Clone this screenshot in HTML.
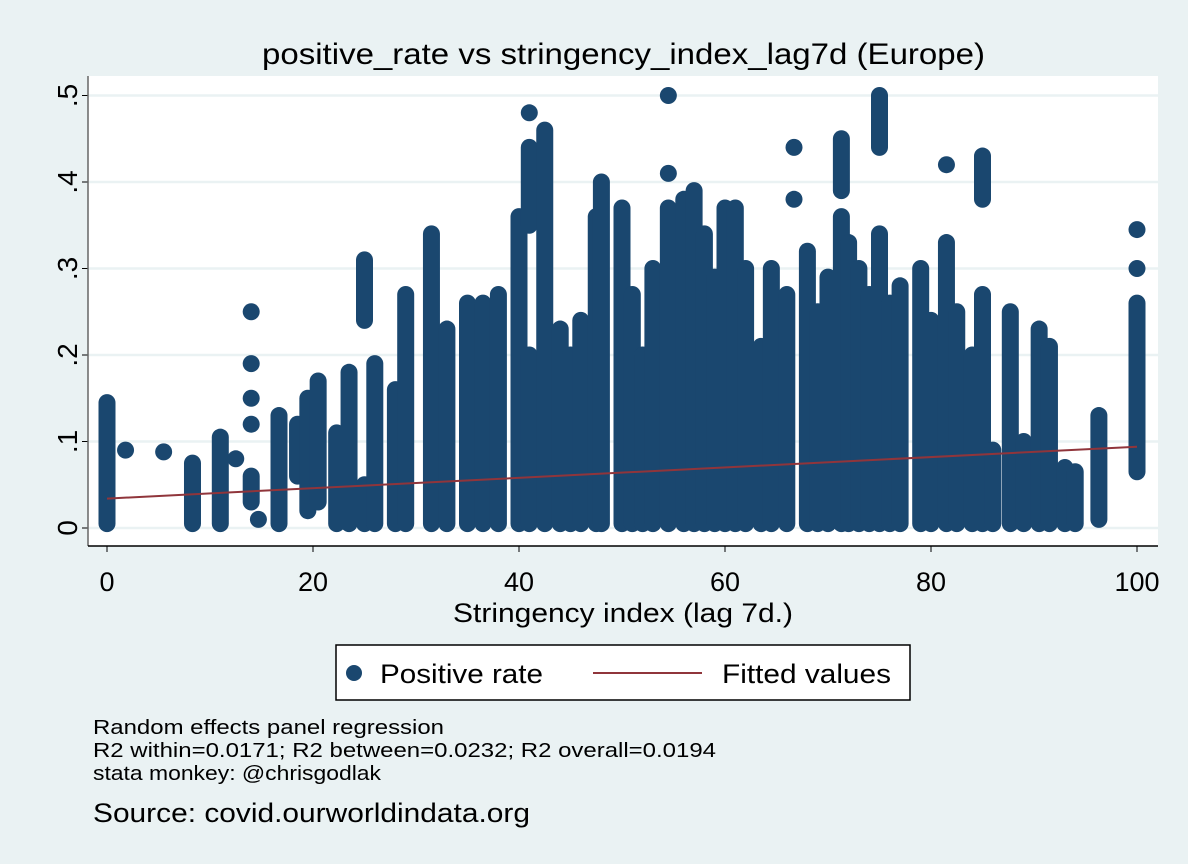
<!DOCTYPE html>
<html><head><meta charset="utf-8"><style>
body{margin:0;background:#eaf2f3;}
svg{display:block;font-family:"Liberation Sans",Arial,sans-serif;}
</style></head><body>
<svg id="chart" width="1188" height="864">
<rect x="0" y="0" width="1188" height="864" fill="#eaf2f3"/>
<rect x="88" y="76" width="1070" height="470" fill="#ffffff"/>
<g id="grid"></g><g id="marks"></g><g id="axes"></g>
<text x="262" y="64" font-size="30" textLength="723" lengthAdjust="spacingAndGlyphs" fill="#000">positive_rate vs stringency_index_lag7d (Europe)</text>
<text x="453" y="622" font-size="27" textLength="340" lengthAdjust="spacingAndGlyphs" fill="#000">Stringency index (lag 7d.)</text>
<g>
<rect x="336" y="645" width="574" height="55" fill="#fff" stroke="#000" stroke-width="1.5"/>
<circle cx="354" cy="673" r="8" fill="#1a476f"/>
<text x="380" y="683" font-size="27" textLength="163" lengthAdjust="spacingAndGlyphs">Positive rate</text>
<line x1="593" y1="673" x2="702" y2="673" stroke="#90353b" stroke-width="2"/>
<text x="722" y="683" font-size="27" textLength="169" lengthAdjust="spacingAndGlyphs">Fitted values</text>
</g>
<g font-size="20" fill="#000">
<text x="93" y="734" textLength="351" lengthAdjust="spacingAndGlyphs">Random effects panel regression</text>
<text x="93" y="757" textLength="623" lengthAdjust="spacingAndGlyphs">R2 within=0.0171; R2 between=0.0232; R2 overall=0.0194</text>
<text x="93" y="780" textLength="288" lengthAdjust="spacingAndGlyphs">stata monkey: @chrisgodlak</text>
</g>
<text x="93" y="822" font-size="27" textLength="437" lengthAdjust="spacingAndGlyphs">Source: covid.ourworldindata.org</text>
</svg>
<script>
const xTicks=[0,20,40,60,80,100];
const yTicks=[0,0.1,0.2,0.3,0.4,0.5];
const yTickLabels=["0",".1",".2",".3",".4",".5"];
// column ranges: x, lo, hi
const colX=[0,8.3,11,14,16.7,18.5,19.5,20.5,22.3,23.5,25,25,26,28,29,31.5,33,35,36.5,38,40,41,41,42.5,44,45,46,47.5,48,50,51,52,53,54.5,56,57,58,59,60,61,62,63.5,64.5,66,68,69,70,71.3,71.3,72,73,74,75,75,76,77,79,80,81.5,82.5,84,85,85,86,87.7,89,90.5,91.5,93,94,96.3,100];
const colLo=[0.005,0.005,0.005,0.03,0.005,0.06,0.02,0.03,0.005,0.005,0.005,0.24,0.005,0.005,0.005,0.005,0.005,0.005,0.005,0.005,0.005,0.005,0.35,0.005,0.005,0.005,0.005,0.005,0.005,0.005,0.005,0.005,0.005,0.005,0.005,0.005,0.005,0.005,0.005,0.005,0.005,0.005,0.005,0.005,0.005,0.005,0.005,0.005,0.39,0.005,0.005,0.005,0.005,0.44,0.005,0.005,0.005,0.005,0.005,0.005,0.005,0.005,0.38,0.005,0.005,0.005,0.005,0.005,0.005,0.005,0.01,0.065];
const colHi=[0.145,0.075,0.105,0.06,0.13,0.12,0.15,0.17,0.11,0.18,0.05,0.31,0.19,0.16,0.27,0.34,0.23,0.26,0.26,0.27,0.36,0.2,0.44,0.46,0.23,0.2,0.24,0.36,0.4,0.37,0.27,0.2,0.3,0.37,0.38,0.39,0.34,0.29,0.37,0.37,0.3,0.21,0.3,0.27,0.32,0.25,0.29,0.36,0.45,0.33,0.3,0.27,0.34,0.5,0.26,0.28,0.3,0.24,0.33,0.25,0.2,0.27,0.43,0.09,0.25,0.1,0.23,0.21,0.07,0.065,0.13,0.26];
const ptX=[1.8,5.5,12.5,14,14,14,14,14.7,41,54.5,54.5,66.7,66.7,81.5,100,100];
const ptY=[0.09,0.088,0.08,0.12,0.15,0.19,0.25,0.01,0.48,0.5,0.41,0.38,0.44,0.42,0.3,0.345];
const fitX=[0,100];
const fitY=[0.034,0.094];
const NS="http://www.w3.org/2000/svg";
const sx=v=>107+v*10.3;
const sy=v=>528-v*865;
const grid=document.getElementById('grid'),marks=document.getElementById('marks'),axes=document.getElementById('axes');
function mk(tag,attrs,parent){const e=document.createElementNS(NS,tag);for(const k in attrs)e.setAttribute(k,attrs[k]);parent.appendChild(e);return e;}
yTicks.forEach((t,i)=>{
 const g=mk('line',{x1:88,x2:1158,y1:sy(t),y2:sy(t),stroke:'#eaf2f3','stroke-width':2.5},grid);
 
 
 const tk=mk('line',{x1:82,x2:88,y1:sy(t),y2:sy(t),stroke:'#000','stroke-width':1},axes);
 
 
 const lb=mk('text',{x:0,y:0,'font-size':28,'text-anchor':'middle',transform:`translate(77,${sy(t)}) rotate(-90)`},axes);
 lb.textContent=yTickLabels[i];
 
 
});
for(let i=0;i<colX.length;i++){
 const l=mk('line',{x1:sx(colX[i]),x2:sx(colX[i]),y1:sy(colLo[i]),y2:sy(colHi[i]),stroke:'#1a476f','stroke-width':17,'stroke-linecap':'round'},marks);
 
 
}
for(let i=0;i<ptX.length;i++){
 const c=mk('circle',{cx:sx(ptX[i]),cy:sy(ptY[i]),r:8.5,fill:'#1a476f'},marks);
 
 
}
const fl=mk('line',{x1:sx(fitX[0]),y1:sy(fitY[0]),x2:sx(fitX[1]),y2:sy(fitY[1]),stroke:'#90353b','stroke-width':2},marks);


const ya=mk('line',{x1:88,x2:88,y1:76,y2:546,stroke:'#666','stroke-width':1.5},axes);


const xa=mk('line',{x1:88,x2:1158,y1:546,y2:546,stroke:'#000','stroke-width':1.5},axes);


xTicks.forEach(t=>{
 const tk=mk('line',{x1:sx(t),x2:sx(t),y1:546,y2:552,stroke:'#000','stroke-width':1},axes);
 
 
 const lb=mk('text',{x:sx(t),y:591,'font-size':27,'text-anchor':'middle'},axes);
 lb.textContent=String(t);
 
 
});
</script>
</body></html>
